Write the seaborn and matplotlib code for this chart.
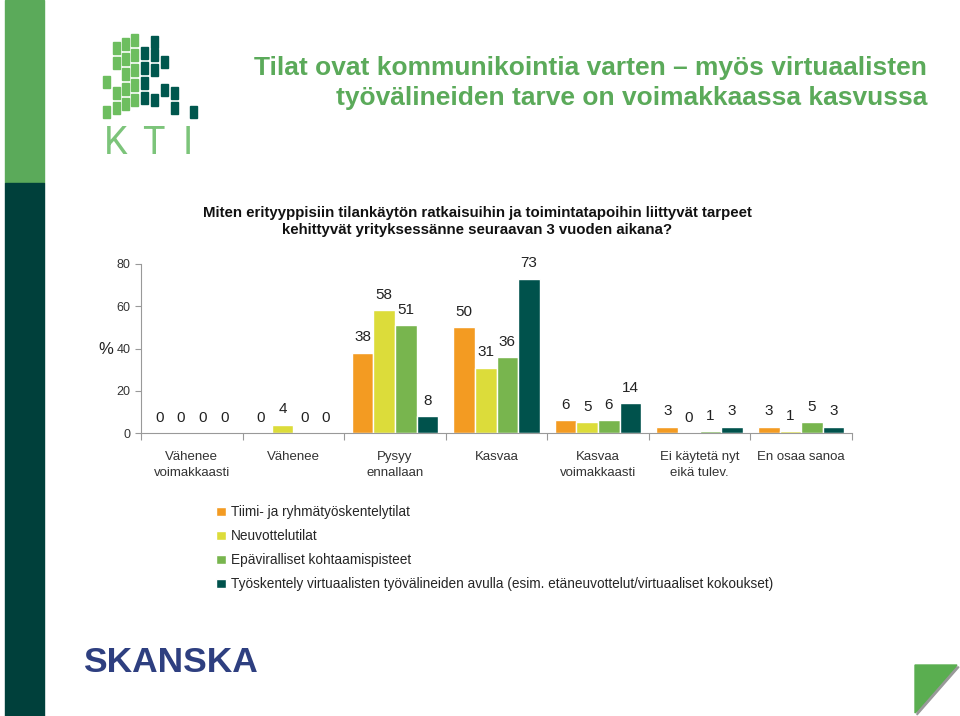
import matplotlib
matplotlib.use("Agg")
import matplotlib.pyplot as plt
import matplotlib.patches as mpatches
import numpy as np
import pandas as pd
import seaborn as sns

# ── Data ───────────────────────────────────────────────────────────────────
CATEGORIES = [
    "Vähenee\nvoimakkaasti",
    "Vähenee",
    "Pysyy\nennallaan",
    "Kasvaa",
    "Kasvaa\nvoimakkaasti",
    "Ei käytetä nyt\neikä tulev.",
    "En osaa sanoa",
]
SERIES = [
    "Tiimi- ja ryhmätyöskentelytilat",
    "Neuvottelutilat",
    "Epäviralliset kohtaamispisteet",
    "Työskentely virtuaalisten työvälineiden avulla (esim. etäneuvottelut/virtuaaliset kokoukset)",
]
tiimi      = [0, 0, 38, 50, 6, 3, 3]
neuvottelu = [0, 4, 58, 31, 5, 0, 1]
epavir     = [0, 0, 51, 36, 6, 1, 5]
virtuaali  = [0, 0, 8, 73, 14, 3, 3]
Y_TICKS = [0, 20, 40, 60, 80]

TITLE = "Tilat ovat kommunikointia varten – myös virtuaalisten\ntyövälineiden tarve on voimakkaassa kasvussa"
QUESTION = ("Miten erityyppisiin tilankäytön ratkaisuihin ja toimintatapoihin liittyvät tarpeet\n"
            "kehittyvät yrityksessänne seuraavan 3 vuoden aikana?")

COLORS = ["#F39B22", "#DCDC3A", "#78B54E", "#00524C"]
GREEN = "#5BAA5A"
DARK = "#00403B"

W, H = 960, 716


def fx(x):
    return x / W


def fy(y):
    return 1 - y / H


df = pd.DataFrame({
    "kategoria": CATEGORIES * 4,
    "sarja": np.repeat(SERIES, len(CATEGORIES)),
    "arvo": tiimi + neuvottelu + epavir + virtuaali,
})

sns.set_theme(style="white")
plt.rcParams["font.family"] = ["Liberation Sans", "DejaVu Sans"]

fig = plt.figure(figsize=(9.6, 7.16), dpi=100)
ax = fig.add_axes([fx(141), fy(433), fx(852) - fx(141), fy(264) - fy(433)])

sns.barplot(data=df, x="kategoria", y="arvo", hue="sarja", order=CATEGORIES,
            hue_order=SERIES, palette=COLORS, saturation=1, width=0.85,
            ax=ax, legend=True)

for cont in ax.containers:
    ax.bar_label(cont, fmt="%d", padding=6, fontsize=11, color="#222222")

ax.set_ylim(0, 80)
ax.set_xlim(-0.5, len(CATEGORIES) - 0.5)
ax.set_yticks(Y_TICKS)
ax.tick_params(axis="y", labelsize=9, colors="#999999", length=4, width=0.8,
               left=True, direction="out")
for lbl in ax.get_yticklabels():
    lbl.set_color("#333333")
ax.set_xticks(range(len(CATEGORIES)))
ax.set_xticklabels(CATEGORIES, fontsize=9.5, color="#333333", linespacing=1.4)
ax.tick_params(axis="x", length=0, pad=13)
ax.set_xticks(np.arange(-0.5, len(CATEGORIES)), minor=True)
ax.tick_params(axis="x", which="minor", length=5, width=0.8, color="#999999",
               bottom=True, direction="out")
ax.set_xlabel("")
ax.set_ylabel("%", rotation=0, fontsize=12, color="#222222")
ax.yaxis.set_label_coords(-0.05, 0.45)
sns.despine(ax=ax)
for side in ("left", "bottom"):
    ax.spines[side].set_color("#999999")
    ax.spines[side].set_linewidth(0.8)

# legend below the chart
handles, labels = ax.get_legend_handles_labels()
ax.get_legend().remove()
fig.legend(handles, labels, loc="upper left", bbox_to_anchor=(fx(211), fy(500)),
           frameon=False, fontsize=9.8, handlelength=0.7, handleheight=0.7,
           handletextpad=0.35, labelspacing=0.73, borderaxespad=0)

# ── Slide decoration ───────────────────────────────────────────────────────
fig.add_artist(mpatches.Rectangle((fx(5), fy(183)), fx(39), 1 - fy(183),
                                  color=GREEN, transform=fig.transFigure))
fig.add_artist(mpatches.Rectangle((fx(5), 0), fx(39), fy(183),
                                  color=DARK, transform=fig.transFigure))

# KTI logo
light_sq = [(106, 112), (106, 82), (116, 108), (116, 93), (116, 63), (116, 48),
            (125, 104), (125, 89), (125, 74), (125, 59), (125, 44),
            (134, 100), (134, 85), (134, 70), (134, 55), (134, 40)]
dark_sq = [(144, 98), (144, 83), (144, 68), (144, 53), (154, 100), (154, 70),
           (154, 55), (154, 42), (164, 90), (164, 62), (174, 108), (174, 93),
           (193, 112)]
for sq, col in [(light_sq, "#6DBE5F"), (dark_sq, "#00574E")]:
    for (cx, cy) in sq:
        fig.add_artist(mpatches.Rectangle((fx(cx - 3.5), fy(cy + 5.5)), fx(7), 11 / H,
                                          color=col, transform=fig.transFigure))
for letter, lx in [("K", 116), ("T", 153), ("I", 188)]:
    fig.text(fx(lx), fy(143), letter, ha="center", va="center", fontsize=27,
             color="#7CC47A", fontweight="normal", family=["Roboto", "DejaVu Sans"])

fig.text(fx(927), fy(83), TITLE, ha="right", va="center", fontsize=19,
         fontweight="bold", color=GREEN, linespacing=1.3)
fig.text(fx(477), fy(221.5), QUESTION, ha="center", va="center", fontsize=10.8,
         fontweight="bold", color="#111111", linespacing=1.32)

fig.text(fx(83), fy(662), "SKANSKA", ha="left", va="center", fontsize=25.5,
         fontweight="bold", color="#2E3F80")

tri = mpatches.Polygon([(fx(917), fy(667)), (fx(959), fy(667)), (fx(917), fy(715))],
                       closed=True, color="#999999", transform=fig.transFigure)
fig.add_artist(tri)
tri = mpatches.Polygon([(fx(915), fy(665)), (fx(957), fy(665)), (fx(915), fy(713))],
                       closed=True, color="#5AAE50", transform=fig.transFigure)
fig.add_artist(tri)

fig.savefig("out.png", dpi=100)
